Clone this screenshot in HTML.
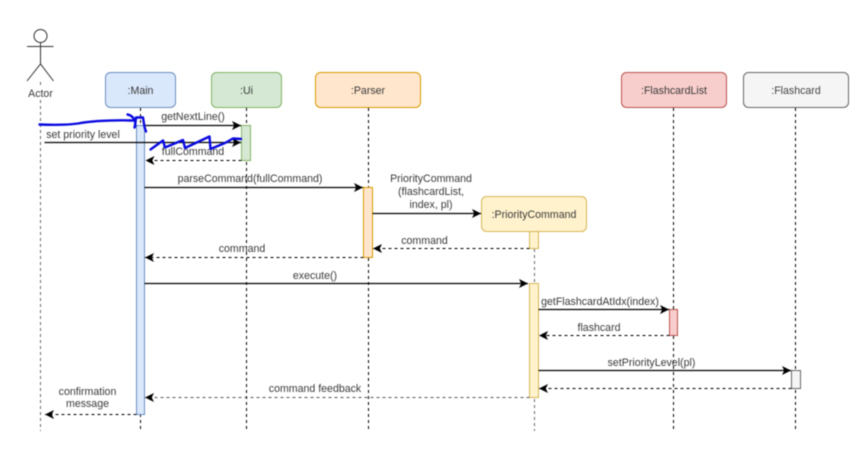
<!DOCTYPE html>
<html>
<head>
<meta charset="utf-8">
<style>
html,body{margin:0;padding:0;background:#fff;width:866px;height:462px;overflow:hidden}
svg{display:block;filter:blur(0.4px)}
text{font-family:"Liberation Sans",sans-serif;font-size:10.6px;fill:#3a3a3a;text-anchor:middle}
.life{stroke:#000;stroke-width:1;stroke-dasharray:3 3;fill:none}
.gray{stroke:#666}
.msg{stroke:#000;stroke-width:1.3;fill:none}
.ret{stroke:#000;stroke-width:1.1;stroke-dasharray:3 3;fill:none}
.retg{stroke:#555;stroke-width:1;stroke-dasharray:3 3;fill:none}
</style>
</head>
<body>
<svg width="866" height="462" viewBox="0 0 866 462" xmlns="http://www.w3.org/2000/svg">
<defs>
<marker id="a" markerUnits="userSpaceOnUse" markerWidth="11" markerHeight="11" refX="9" refY="4.5" orient="auto"><path d="M0 0L9 4.5L0 9L2.2 4.5Z" fill="#000"/></marker>
</defs>
<rect width="866" height="462" fill="#fff"/>

<!-- lifelines -->
<path class="life gray" d="M40.5 82V431"/>
<path class="life" d="M140.5 108V432"/>
<path class="life" d="M246.5 108V432"/>
<path class="life" d="M368.5 108V432"/>
<path class="life gray" d="M534.5 231V431"/>
<path class="life" d="M673.5 108V432"/>
<path class="life" d="M795.5 108V432"/>

<!-- actor -->
<circle cx="40.5" cy="36" r="6.5" fill="#fff" stroke="#333" stroke-width="1"/>
<path d="M40.5 42.5V64M27 46.5H53.5M27 81L40.5 64L53.5 81" fill="none" stroke="#333" stroke-width="1"/>
<rect x="26" y="85" width="30" height="14" fill="#fff"/>
<text x="40.5" y="97">Actor</text>

<!-- header boxes -->
<rect x="105.5" y="72.5" width="70" height="35" rx="5" fill="#dae8fc" stroke="#6c8ebf"/>
<text x="140.5" y="94">:Main</text>
<rect x="211.5" y="72.5" width="70" height="35" rx="5" fill="#d5e8d4" stroke="#82b366"/>
<text x="246.5" y="94">:Ui</text>
<rect x="315.5" y="72.5" width="105" height="35" rx="5" fill="#ffe6cc" stroke="#d79b00"/>
<text x="368" y="94">:Parser</text>
<rect x="621.5" y="72.5" width="105" height="35" rx="5" fill="#f8cecc" stroke="#b85450"/>
<text x="674" y="94">:FlashcardList</text>
<rect x="743.5" y="72.5" width="105" height="35" rx="5" fill="#f5f5f5" stroke="#666"/>
<text x="796" y="94" style="fill:#444">:Flashcard</text>
<rect x="481.5" y="196.5" width="105" height="35" rx="5" fill="#fff2cc" stroke="#d6b656"/>
<text x="534" y="218">:PriorityCommand</text>

<!-- activations -->
<rect x="136.5" y="125.5" width="8" height="289" fill="#dae8fc" stroke="#6c8ebf"/>
<rect x="241.5" y="125.5" width="9" height="35" fill="#d5e8d4" stroke="#82b366"/>
<rect x="363.5" y="187.5" width="9" height="70" fill="#ffe6cc" stroke="#d79b00"/>
<rect x="529.5" y="231.5" width="9" height="17" fill="#fff2cc" stroke="#d6b656"/>
<rect x="529.5" y="283.5" width="9" height="114" fill="#fff2cc" stroke="#d6b656"/>
<rect x="669.5" y="309.5" width="8" height="26" fill="#f8cecc" stroke="#b85450"/>
<rect x="791.5" y="370.5" width="9" height="18" fill="#f5f5f5" stroke="#666"/>

<!-- messages -->
<path class="msg" marker-end="url(#a)" d="M144.5 125.5H241"/>
<text x="193" y="120">getNextLine()</text>
<path class="msg" marker-end="url(#a)" d="M44.5 142.5H241"/>
<text x="83" y="138">set priority level</text>
<path class="ret" marker-end="url(#a)" d="M241.5 160.5H145.5"/>
<text x="193" y="155">fullCommand</text>
<path class="msg" marker-end="url(#a)" d="M144.5 187.5H363"/>
<text x="250" y="182">parseCommand(fullCommand)</text>
<path class="msg" marker-end="url(#a)" d="M372.5 213.5H481"/>
<text x="431" y="182">PriorityCommand</text>
<text x="431" y="195">(flashcardList,</text>
<text x="431" y="208">index, pl)</text>
<path class="ret" marker-end="url(#a)" d="M529.5 248.5H373"/>
<text x="424.5" y="244">command</text>
<path class="ret" marker-end="url(#a)" d="M363.5 257.5H145"/>
<text x="242" y="252">command</text>
<path class="msg" marker-end="url(#a)" d="M144.5 283.5H528"/>
<text x="315" y="279">execute()</text>
<path class="msg" marker-end="url(#a)" d="M538.5 309.5H669"/>
<text x="600" y="305">getFlashcardAtIdx(index)</text>
<path class="ret" marker-end="url(#a)" d="M669.5 335.5H539"/>
<text x="599" y="331">flashcard</text>
<path class="msg" marker-end="url(#a)" d="M538.5 370.5H791"/>
<text x="651.5" y="366">setPriorityLevel(pl)</text>
<path class="ret" marker-end="url(#a)" d="M791.5 388.5H539"/>
<path class="retg" marker-end="url(#a)" d="M529.5 397.5H145"/>
<text x="315" y="392">command feedback</text>
<path class="ret" marker-end="url(#a)" d="M136.5 414.5H45"/>
<text x="87.5" y="395">confirmation</text>
<text x="87.5" y="407">message</text>

<!-- blue annotations -->
<path d="M39.5 124.5C55 125 68 125 78 123.5C92 121 112 120 133 120.5M127.5 114.5C131 115 134 118 135 121C135.5 124 135 126 134.5 127.5M135 127L136 117.5H143L144.5 127L146 131.5" fill="none" stroke="#0a0ae0" stroke-width="2.4" stroke-linejoin="round" stroke-linecap="round"/>
<path d="M150.5 149.5L163 140.5L165 147.5L183 140L185 148L209.5 136.5L210.5 149L225 143L233 138.5L241 139" fill="none" stroke="#0a0ae0" stroke-width="2.4" stroke-linejoin="round" stroke-linecap="round"/>
</svg>
</body>
</html>
